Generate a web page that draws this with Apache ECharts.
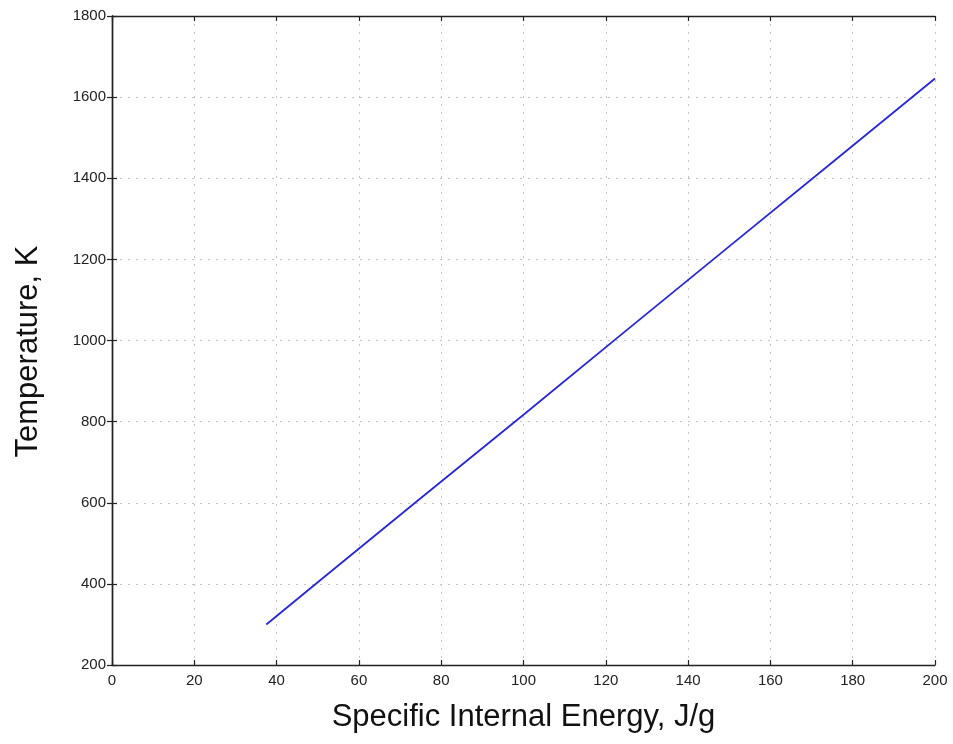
<!DOCTYPE html>
<html>
<head>
<meta charset="utf-8">
<title>Temperature vs Specific Internal Energy</title>
<script src="https://cdn.jsdelivr.net/npm/echarts@6/dist/echarts.min.js"></script>
<style>
  html, body { margin: 0; padding: 0; background: #fff; }
  #chart { width: 953px; height: 744px; }
</style>
</head>
<body>
<div id="chart"></div>
<script>
// Specific internal energy (J/g) and the matching temperature (K)
const energy = [37.5, 50, 75, 100, 125, 150, 175, 200];
const temperature = [300, 404, 611, 817, 1025, 1232, 1439, 1646];

const xTicks = { min: 0, max: 200, interval: 20 };
const yTicks = { min: 200, max: 1800, interval: 200 };

const xTitle = 'Specific Internal Energy, J/g';
const yTitle = 'Temperature, K';

const fontFamily = '"Liberation Sans", Arial, Helvetica, sans-serif';
const axisColor = '#222';

const points = energy.map((e, i) => [e, temperature[i]]);

const chart = echarts.init(document.getElementById('chart'), null, { renderer: 'canvas' });

const baseAxisLine = { show: true, lineStyle: { color: axisColor, width: 1.4 } };
const baseTick = { show: true, inside: true, length: 5, lineStyle: { color: axisColor, width: 1.2 } };
const gridDots = { show: true, lineStyle: { color: '#c4c4c4', type: [2, 6], width: 1 } };
const plainNumber = v => String(v);

chart.setOption({
  animation: false,
  backgroundColor: '#fff',
  grid: { left: 112, right: 18, top: 16, bottom: 79, containLabel: false },
  xAxis: [
    {
      type: 'value',
      min: xTicks.min, max: xTicks.max, interval: xTicks.interval,
      position: 'bottom',
      name: xTitle,
      nameLocation: 'middle',
      nameGap: 37,
      nameTextStyle: { fontFamily, fontSize: 31, color: '#111' },
      axisLine: baseAxisLine,
      axisTick: baseTick,
      axisLabel: { fontFamily, fontSize: 15, color: '#222', margin: 8, formatter: plainNumber },
      splitLine: gridDots
    },
    {
      type: 'value',
      min: xTicks.min, max: xTicks.max, interval: xTicks.interval,
      position: 'top',
      axisLine: baseAxisLine,
      axisTick: baseTick,
      axisLabel: { show: false },
      splitLine: { show: false }
    }
  ],
  yAxis: [
    {
      type: 'value',
      min: yTicks.min, max: yTicks.max, interval: yTicks.interval,
      position: 'left',
      name: yTitle,
      nameLocation: 'middle',
      nameGap: 68,
      nameTextStyle: { fontFamily, fontSize: 31, color: '#111', padding: [0, 22, 0, 0] },
      axisLine: baseAxisLine,
      axisTick: baseTick,
      axisLabel: { fontFamily, fontSize: 15, color: '#222', margin: 6, formatter: plainNumber },
      splitLine: gridDots
    },
    {
      type: 'value',
      min: yTicks.min, max: yTicks.max, interval: yTicks.interval,
      position: 'right',
      axisLine: baseAxisLine,
      axisTick: baseTick,
      axisLabel: { show: false },
      splitLine: { show: false }
    }
  ],
  series: [
    {
      type: 'line',
      xAxisIndex: 0,
      yAxisIndex: 0,
      data: points,
      showSymbol: false,
      symbol: 'none',
      lineStyle: { color: '#2727d8', width: 1.8 }
    }
  ]
});
</script>
</body>
</html>
